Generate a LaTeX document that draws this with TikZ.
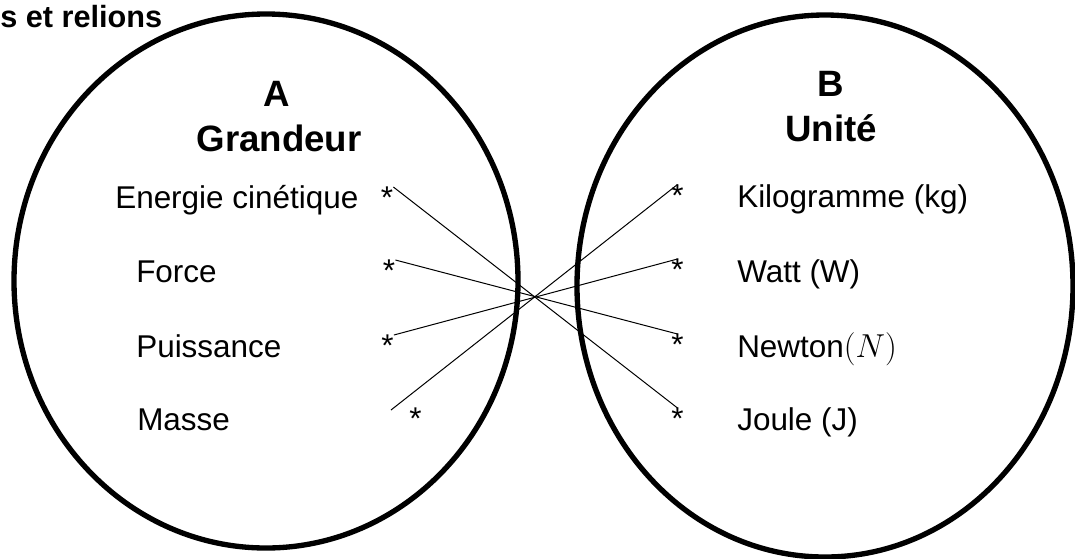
\documentclass[tikz,border=0pt]{standalone}
\usepackage{fontspec}
\setmainfont{Liberation Sans}
\usepackage{tikz}
\usetikzlibrary{shapes.geometric}
\tikzset{
	% ensemble (grande ellipse)
	ensemble/.style={draw, ellipse, line width=4pt, inner sep=0pt},
	% titre d'un ensemble
	titre/.style={anchor=base, inner sep=0pt, font=\bfseries\fontsize{27.5}{31}\selectfont},
	% element d'un ensemble
	elem/.style={anchor=base west, inner sep=0pt, font=\fontsize{23.6}{27}\selectfont},
	% petite etoile de liaison
	etoile/.style={anchor=north, inner sep=0pt, font=\fontsize{23.6}{27}\selectfont},
	% trait de liaison
	liaison/.style={line width=0.75pt},
}

\begin{document}
\begin{tikzpicture}[x=0.75pt, y=-0.75pt]
    \useasboundingbox (0,0) rectangle (1075,558);
    \node[anchor=base west, inner sep=0pt, font=\bfseries\fontsize{23}{27}\selectfont] (consigne) at (0,27) {s et relions};
    % les deux ensembles
    \node[ensemble, minimum width=378pt, minimum height=400.5pt] (ensA) at (266,281) {};
    \node[ensemble, minimum width=372pt, minimum height=406.5pt] (ensB) at (825,286) {};
    \node[titre] (tA) at (277,106) {A};
    \node[titre] (gA) at (279,151) {Grandeur};
    \node[titre] (tB) at (831,96) {B};
    \node[titre] (gB) at (831,141) {Unité};
    % grandeurs
    \node[elem] (energie) at (115,208) {Energie cinétique};
    \node[elem] (force) at (136,282) {Force};
    \node[elem] (puiss) at (136,357) {Puissance};
    \node[elem] (masse) at (137,430) {Masse};
    \node[etoile] (eE) at (387,187) {*};
    \node[etoile] (eF) at (389,260) {*};
    \node[etoile] (eP) at (387.5,335) {*};
    \node[etoile] (eM) at (415.5,408) {*};
    \coordinate (dM) at (391,410);
    % unites
    \node[elem] (kg) at (737,207) {Kilogramme (kg)};
    \node[elem] (watt) at (737,282) {Watt (W)};
    \node[elem] (newton) at (737,357) {Newton$(N)$};
    \node[elem] (joule) at (737,430) {Joule (J)};
    \node[etoile] (uK) at (677.5,184.5) {*};
    \node[etoile] (uW) at (677.5,259) {*};
    \node[etoile] (uN) at (677.5,334) {*};
    \node[etoile] (uJ) at (677.5,408) {*};
    % liaisons
    \draw[liaison] (eE.north east) -- (uJ.north);
    \draw[liaison] (eF.north east) -- (uN.north);
    \draw[liaison] (eP.north east) -- (uW.north);
    \draw[liaison] (dM) -- (uK.north);
\end{tikzpicture}
\end{document}
